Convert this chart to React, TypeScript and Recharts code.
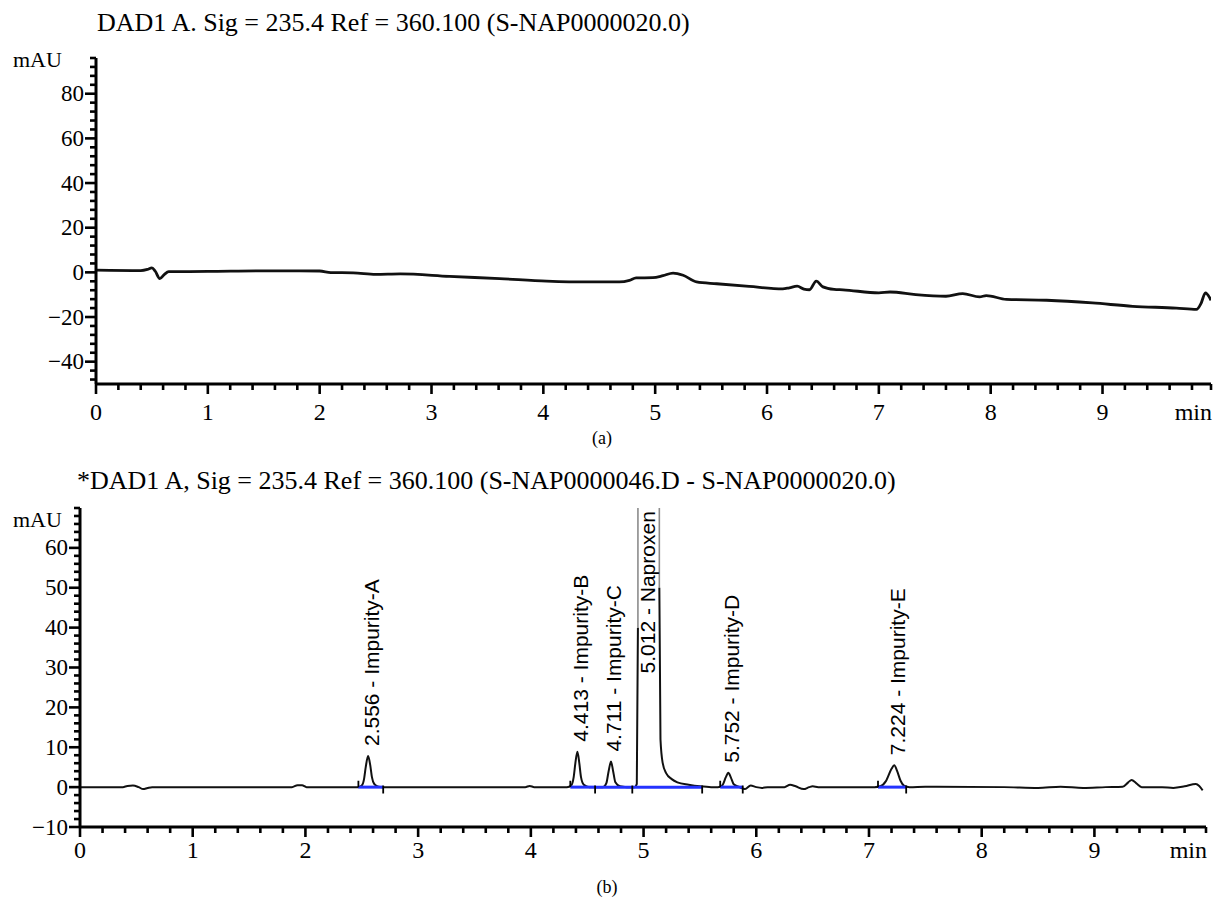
import React from 'react';
import { LabelList, Line, LineChart, ReferenceLine, XAxis, YAxis } from 'recharts';

/*
 * Two stacked HPLC chromatograms: (a) blank, (b) naproxen + impurities.
 * Each chart is a fixed-size LineChart; titles/captions live in an overlay svg.
 */

const SERIF = '"Liberation Serif", "Times New Roman", serif';
const SANS = '"Liberation Sans", Arial, sans-serif';

// (a) blank run — [min, mAU]
const BLANK_TRACE: Array<[number, number]> = [
  [0, 1], [0.4, 0.8], [0.46, 1.3], [0.5, 2], [0.53, 0.5], [0.57, -2.8], [0.61, -1], [0.65, 0.3],
  [1.0, 0.4], [1.5, 0.7], [2.0, 0.6], [2.1, -0.1], [2.3, -0.2], [2.5, -0.9], [2.72, -0.7],
  [3.16, -1.8], [3.61, -2.8], [4.03, -3.9], [4.39, -4.3], [4.68, -4.3], [4.77, -3.6], [4.83, -2.5],
  [4.98, -2.4], [5.07, -1.5], [5.16, -0.3], [5.25, -1.3], [5.37, -4.3], [5.55, -5.1], [5.84, -6.3],
  [6.14, -7.4], [6.2, -6.9], [6.27, -6.2], [6.33, -7.5], [6.38, -7.8], [6.44, -3.9], [6.5, -6.5],
  [6.6, -7.6], [6.68, -7.8], [7.0, -9.2], [7.1, -8.8], [7.33, -10], [7.6, -10.7], [7.75, -9.5],
  [7.9, -11], [7.96, -10.4], [8.14, -12.1], [8.5, -12.5], [8.91, -13.7], [9.27, -15.2],
  [9.66, -16], [9.84, -16.6], [9.88, -14], [9.92, -9.2], [9.97, -12.5],
];

// (b) sample run — null marks where the off-scale naproxen peak is drawn in grey
const SAMPLE_TRACE: Array<[number, number | null]> = [
  [0, 0], [0.38, 0], [0.42, 0.3], [0.47, 0.4], [0.52, 0], [0.56, -0.5], [0.6, -0.2], [0.64, 0],
  [1.88, 0], [1.93, 0.5], [1.97, 0.5], [2.01, 0],
  [2.47, 0], [2.5, 0.4], [2.52, 2], [2.535, 5], [2.556, 7.8], [2.575, 5.5], [2.59, 2.5], [2.61, 0.8], [2.64, 0.2], [2.68, 0],
  [3.95, 0], [3.99, 0.3], [4.03, 0],
  [4.32, 0], [4.36, 0.5], [4.38, 2.5], [4.395, 6], [4.413, 8.9], [4.43, 6], [4.445, 2.5], [4.47, 0.6], [4.52, 0],
  [4.64, 0], [4.67, 1], [4.69, 4], [4.711, 6.4], [4.73, 4], [4.75, 1.2], [4.79, 0.2], [4.85, 0],
  [4.92, 0], [4.94, 0.8], [4.95, 40], [5.0, null],
  [5.14, 50], [5.15, 12], [5.17, 6], [5.2, 3.5], [5.25, 2], [5.3, 1.2], [5.4, 0.6], [5.5, 0.2], [5.6, 0],
  [5.66, 0], [5.7, 0.5], [5.73, 2.5], [5.752, 3.6], [5.775, 2.4], [5.8, 0.7], [5.85, 0],
  [5.9, -0.5], [5.95, 0.4], [6.0, 0], [6.05, -0.2], [6.1, 0], [6.25, 0], [6.3, 0.6], [6.35, 0.2],
  [6.42, -0.5], [6.47, 0], [6.5, 0.2], [6.55, 0],
  [7.05, 0], [7.1, 0.2], [7.15, 1.5], [7.2, 4.6], [7.224, 5.5], [7.25, 4], [7.28, 1.6], [7.31, 0.4], [7.36, 0],
  [7.5, 0.1], [8.2, 0], [8.5, -0.2], [8.7, 0.1], [8.9, -0.2], [9.1, 0], [9.25, 0.1],
  [9.3, 1.2], [9.33, 1.8], [9.37, 1], [9.42, 0], [9.6, 0], [9.7, -0.2], [9.8, 0.2], [9.9, 0.8],
  [9.93, 0.3], [9.96, -0.8],
];

// off-scale part of the naproxen peak
const NAPROXEN_TOP: Array<[number, number]> = [
  [4.95, 40], [4.955, 2000], [5.13, 2000], [5.14, 50],
];

// integration baselines [start, end]
const BASELINES: Array<[number, number]> = [
  [2.47, 2.69], [4.35, 4.57], [4.57, 4.9], [4.9, 5.52], [5.68, 5.88], [7.08, 7.33],
];
const MARK_START = [2.47, 4.35, 5.68, 7.08];
const MARK_END = [2.69, 4.57, 4.9, 5.52, 5.88, 7.33];

const PEAK_TIME = [2.556, 4.413, 4.711, 5.012, 5.752, 7.224];
const PEAK_NAME = ['Impurity-A', 'Impurity-B', 'Impurity-C', 'Naproxen', 'Impurity-D', 'Impurity-E'];
// height (mAU) where each label begins
const PEAK_LABEL_AT = [7.8, 8.9, 6.4, 26, 3.6, 5.5];

const A_X_END = 9.97;
const B_X_END = 9.99;
const A_Y = { min: -50, max: 96, major: 20, minor: 4 };
const B_Y = { min: -10, max: 70, major: 10, minor: 2 };

const steps = (a: number, b: number, s: number) =>
  Array.from({ length: Math.floor((b - a) / s + 1e-6) + 1 }, (_, i) => +(a + i * s).toFixed(4));

const blankData = BLANK_TRACE.map(([t, v]) => ({ t, v }));
const sampleData = SAMPLE_TRACE.map(([t, v]) => ({ t, v }));
const naproxenData = NAPROXEN_TOP.map(([t, v]) => ({ t, v }));
const peakData = PEAK_TIME.map((t, i) => ({
  t,
  at: PEAK_LABEL_AT[i],
  name: `${t.toFixed(3)} - ${PEAK_NAME[i]}`,
}));

const isMultiple = (v: number, s: number) => Math.abs(v / s - Math.round(v / s)) < 1e-6;

function makeXTick(end: number, labelDy: number) {
  return function XTick(props: any) {
    const { x, y, payload } = props;
    const v = payload.value as number;
    const isEnd = Math.abs(v - end) < 1e-6;
    const major = !isEnd && isMultiple(v, 1);
    return (
      <g>
        <line x1={x} x2={x} y1={y} y2={y + (major ? 10 : 6)} stroke="#000" strokeWidth={2.6} />
        {major && (
          <text x={x} y={y + labelDy} textAnchor="middle" fontFamily={SERIF} fontSize={24} fill="#000">
            {Math.round(v)}
          </text>
        )}
        {isEnd && (
          <text x={x + 1} y={y + labelDy} textAnchor="end" fontFamily={SERIF} fontSize={24} fill="#000">
            min
          </text>
        )}
      </g>
    );
  };
}

function makeYTick(cfg: { max: number; major: number }) {
  return function YTick(props: any) {
    const { x, y, payload } = props;
    const v = payload.value as number;
    const major = v < cfg.max && isMultiple(v, cfg.major);
    return (
      <g>
        <line x1={x - (major ? 11 : 6)} x2={x} y1={y} y2={y} stroke="#000" strokeWidth={2.6} />
        {major && (
          <text x={x - 12} y={y} textAnchor="end" dominantBaseline="central" fontFamily={SERIF} fontSize={23} fill="#000">
            {v < 0 ? `\u2212${-v}` : v}
          </text>
        )}
      </g>
    );
  };
}

function PeakLabel(props: any) {
  const vb = props.viewBox || {};
  const x = (props.x ?? vb.x) as number;
  const y = (props.y ?? vb.y) as number;
  if (x == null || y == null) return null;
  const lx = x + 3;
  const ly = y - 10;
  return (
    <text
      x={lx}
      y={ly}
      transform={`rotate(-90 ${lx} ${ly})`}
      textAnchor="start"
      dominantBaseline="central"
      fontFamily={SANS}
      fontSize={21}
      fill="#000"
    >
      {props.value}
    </text>
  );
}

const axisLine = { stroke: '#000', strokeWidth: 3 };

function BlankChart() {
  return (
    <LineChart width={1214} height={440} margin={{ top: 58, right: 3, bottom: 16, left: 0 }}>
      <XAxis
        type="number"
        dataKey="t"
        domain={[0, A_X_END]}
        allowDataOverflow
        ticks={[...steps(0, 9.8, 0.2), A_X_END]}
        interval={0}
        height={40}
        tickSize={0}
        tickMargin={0}
        tickLine={false}
        axisLine={axisLine}
        tick={makeXTick(A_X_END, 36)}
      />
      <YAxis
        type="number"
        domain={[A_Y.min, A_Y.max]}
        allowDataOverflow
        ticks={steps(-48, A_Y.max, A_Y.minor)}
        interval={0}
        width={96}
        tickSize={0}
        tickMargin={0}
        tickLine={false}
        axisLine={axisLine}
        tick={makeYTick(A_Y)}
      />
      <Line
        data={blankData}
        dataKey="v"
        type="monotone"
        stroke="#111"
        strokeWidth={2.8}
        dot={false}
        isAnimationActive={false}
      />
    </LineChart>
  );
}

function SampleChart() {
  return (
    <LineChart width={1214} height={450} margin={{ top: 58, right: 8, bottom: 33, left: 0 }}>
      <XAxis
        type="number"
        dataKey="t"
        domain={[0, B_X_END]}
        allowDataOverflow
        ticks={[...steps(0, 9.8, 0.2), B_X_END]}
        interval={0}
        height={40}
        tickSize={0}
        tickMargin={0}
        tickLine={false}
        axisLine={axisLine}
        tick={makeXTick(B_X_END, 31)}
      />
      <YAxis
        type="number"
        domain={[B_Y.min, B_Y.max]}
        allowDataOverflow
        ticks={steps(B_Y.min, B_Y.max, B_Y.minor)}
        interval={0}
        width={80}
        tickSize={0}
        tickMargin={0}
        tickLine={false}
        axisLine={axisLine}
        tick={makeYTick(B_Y)}
      />
      <Line
        data={naproxenData}
        dataKey="v"
        type="linear"
        stroke="#8c8c8c"
        strokeWidth={1.6}
        dot={false}
        isAnimationActive={false}
      />
      <Line
        data={sampleData}
        dataKey="v"
        type="monotone"
        stroke="#111"
        strokeWidth={2}
        dot={false}
        connectNulls={false}
        isAnimationActive={false}
      />
      {BASELINES.map(([s, e]) => (
        <Line
          key={`bl-${s}`}
          data={[{ t: s, v: 0 }, { t: e, v: 0 }]}
          dataKey="v"
          type="linear"
          stroke="#2433ff"
          strokeWidth={3}
          dot={false}
          isAnimationActive={false}
        />
      ))}
      {MARK_START.map((t) => (
        <ReferenceLine key={`ms-${t}`} segment={[{ x: t, y: 0 }, { x: t, y: 1.6 }]} stroke="#000" strokeWidth={1.8} />
      ))}
      {MARK_END.map((t) => (
        <ReferenceLine key={`me-${t}`} segment={[{ x: t, y: 0.4 }, { x: t, y: -1.6 }]} stroke="#000" strokeWidth={1.8} />
      ))}
      <Line data={peakData} dataKey="at" stroke="none" dot={false} isAnimationActive={false}>
        <LabelList dataKey="name" content={PeakLabel} />
      </Line>
    </LineChart>
  );
}

export default function App() {
  return (
    <div style={{ position: 'absolute', left: 0, top: 0, width: 1214, height: 900, background: '#fff' }}>
      <div style={{ position: 'absolute', left: 0, top: 0 }}>
        <BlankChart />
      </div>
      <div style={{ position: 'absolute', left: 0, top: 450 }}>
        <SampleChart />
      </div>
      <svg
        width={1214}
        height={900}
        style={{ position: 'absolute', left: 0, top: 0, pointerEvents: 'none' }}
        fontFamily={SERIF}
        fill="#000"
      >
        <text x={97} y={31} fontSize={26}>DAD1 A. Sig = 235.4 Ref = 360.100 (S-NAP0000020.0)</text>
        <text x={13} y={67} fontSize={22}>mAU</text>
        <text x={602} y={444} fontSize={18} textAnchor="middle">(a)</text>
        <text x={77} y={489} fontSize={26}>*DAD1 A, Sig = 235.4 Ref = 360.100 (S-NAP0000046.D - S-NAP0000020.0)</text>
        <text x={13} y={527} fontSize={22}>mAU</text>
        <text x={607} y={893} fontSize={18} textAnchor="middle">(b)</text>
      </svg>
    </div>
  );
}
